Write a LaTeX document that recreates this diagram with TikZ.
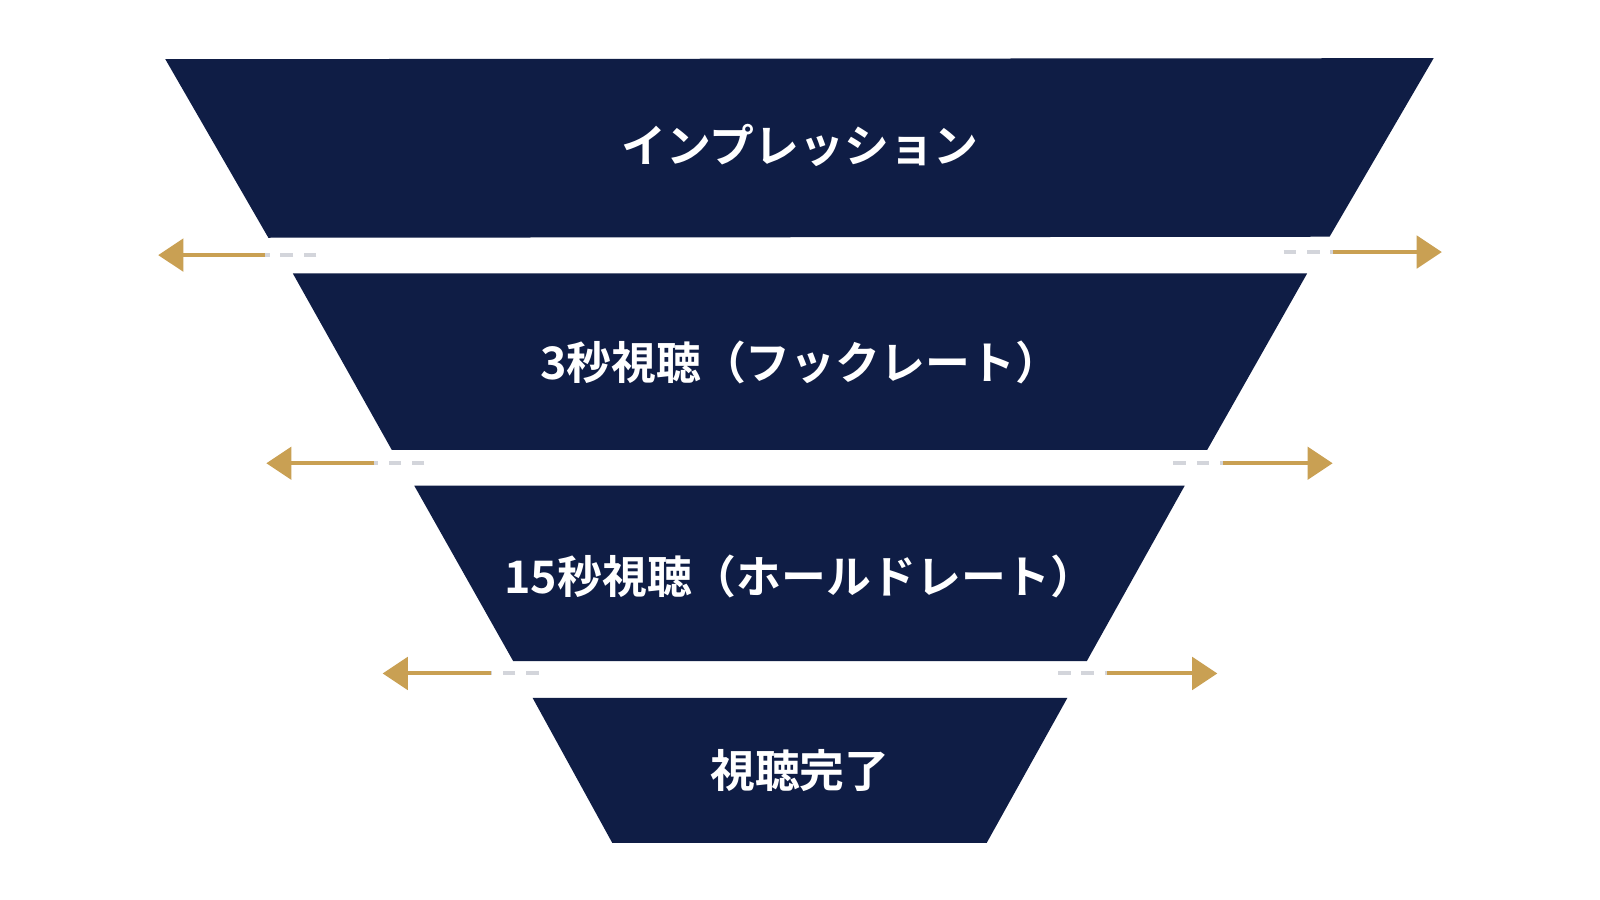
\documentclass[tikz,border=0pt]{standalone}
\usepackage{fontspec}
\newfontfamily\cjk{Noto Sans CJK JP Bold}
\usetikzlibrary{arrows.meta}
\definecolor{navy}{HTML}{0F1D45}
\definecolor{gold}{HTML}{C9A053}
\definecolor{dgrey}{HTML}{D3D5DB}
\begin{document}
\begin{tikzpicture}[x=0.01cm,y=-0.01cm,
  stage/.style={fill=navy,draw=none},
  lbl/.style={text=white,font=\cjk\fontsize{12.5}{14}\selectfont},
  arr/.style={draw=gold,line width=1.1pt,-{Triangle[length=7pt,width=9pt]}},
  dsh/.style={draw=dgrey,line width=1.1pt,dash pattern=on 3.5pt off 3pt}]
\useasboundingbox[fill=white] (0,0) rectangle (1568,882);
\fill[stage] (162,58) -- (1405,57) -- (1303,232) -- (263,233) -- cycle;
\fill[stage] (287,268) -- (1281,268) -- (1183,441) -- (384,441) -- cycle;
\fill[stage] (406,476) -- (1161,476) -- (1065,648) -- (503,648) -- cycle;
\fill[stage] (522,684) -- (1046,684) -- (967,826) -- (600,826) -- cycle;
\node[lbl] (s1) at (784,143) {インプレッション};
\node[lbl] (s2) at (784,355) {3秒視聴（フックレート）};
\node[lbl] (s3) at (784,565) {15秒視聴（ホールドレート）};
\node[lbl] (s4) at (784,755) {視聴完了};
% row 1
\coordinate (l1a) at (260,250); \coordinate (l1t) at (155,250);
\coordinate (l1d) at (310,250);
\draw[dsh] (l1d) -- (l1a);
\draw[arr] (l1a) -- (l1t);
\coordinate (r1d) at (1258,247); \coordinate (r1a) at (1306,247); \coordinate (r1t) at (1413,247);
\draw[dsh] (r1d) -- (r1a);
\draw[arr] (r1a) -- (r1t);
% row 2
\coordinate (l2a) at (367,454); \coordinate (l2t) at (261,454); \coordinate (l2d) at (416,454);
\draw[dsh] (l2d) -- (l2a);
\draw[arr] (l2a) -- (l2t);
\coordinate (r2d) at (1150,454); \coordinate (r2a) at (1199,454); \coordinate (r2t) at (1306,454);
\draw[dsh] (r2d) -- (r2a);
\draw[arr] (r2a) -- (r2t);
% row 3
\coordinate (l3a) at (481,660); \coordinate (l3t) at (375,660); \coordinate (l3d) at (528,660);
\draw[dsh] (l3d) -- (l3a);
\draw[arr] (l3a) -- (l3t);
\coordinate (r3d) at (1037,660); \coordinate (r3a) at (1085,660); \coordinate (r3t) at (1193,660);
\draw[dsh] (r3d) -- (r3a);
\draw[arr] (r3a) -- (r3t);
\end{tikzpicture}
\end{document}
